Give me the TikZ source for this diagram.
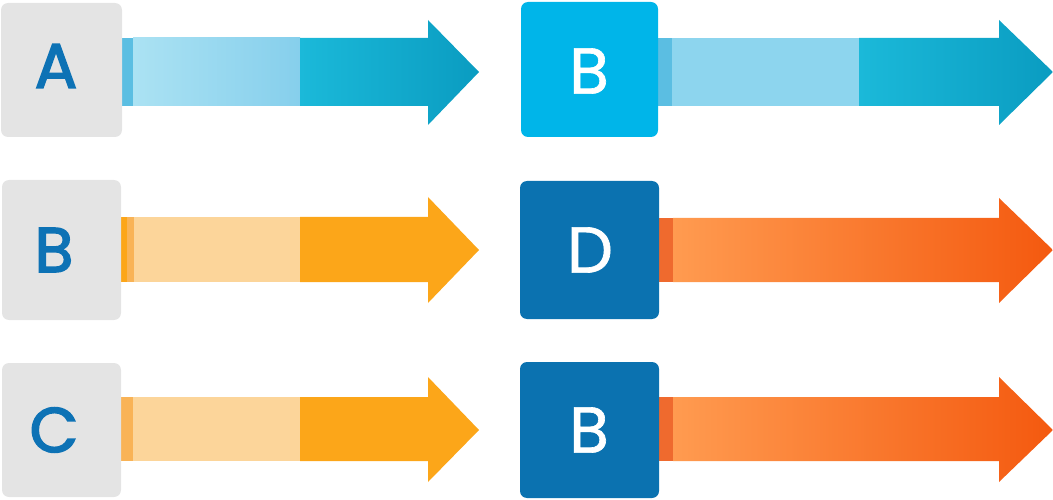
\documentclass[tikz,border=0pt]{standalone}
\usepackage{fontspec}
\newfontfamily\letterfont{Poppins}[FakeBold=1.0]
\newfontfamily\letterheavy{Poppins}[FakeBold=2.6]
\definecolor{boxgrey}{HTML}{E4E4E4}
\definecolor{lettblue}{HTML}{0D72B5}
\definecolor{skyblue}{HTML}{00B5E9}
\definecolor{deepblue}{HTML}{0B72B0}
\definecolor{tealA}{HTML}{1BB9D9}
\definecolor{tealB}{HTML}{0A9CC1}
\definecolor{paleA}{HTML}{ABE2F3}
\definecolor{paleB}{HTML}{86CFEC}
\definecolor{paleC}{HTML}{8DD5EE}
\definecolor{tealstrip}{HTML}{5BBEE2}
\definecolor{orlight}{HTML}{FCD59A}
\definecolor{orstrip}{HTML}{F9B356}
\definecolor{ordark}{HTML}{FCA619}
\definecolor{redA}{HTML}{FF9B50}
\definecolor{redB}{HTML}{F4590F}
\definecolor{redstrip}{HTML}{EF6A2E}
\tikzset{
  greybox/.style={fill=boxgrey, rounded corners=7pt},
  bluebox/.style={fill=skyblue, rounded corners=7pt},
  darkbox/.style={fill=deepblue, rounded corners=7pt},
  bluelett/.style={text=lettblue, font=\letterheavy\fontsize{63}{63}\selectfont, inner sep=0pt},
  whitelett/.style={text=white, font=\letterfont\fontsize{65}{65}\selectfont, inner sep=0pt},
}
\begin{document}
\begin{tikzpicture}[x=1pt,y=-1pt]
\useasboundingbox (0,0) rectangle (1053,500);
% ---------- left column ----------
% row 1 (teal)
\fill[tealstrip] (116,38) rectangle (134,106);
\shade[left color=paleA, right color=paleB] (133,38) rectangle (300,106);
\shade[left color=tealA, right color=tealB] (300,38) -- (428,38) -- (428,20) -- (479,72) -- (428,125) -- (428,106) -- (300,106) -- cycle;
\fill[greybox] (1,3) rectangle (122,137);
\node[bluelett] (a1) at (56,66) {A};
% row 2 (orange)
\fill[ordark] (116,217) rectangle (128,282);
\fill[orstrip] (127,217) rectangle (135,282);
\fill[orlight] (134,217) rectangle (300,282);
\fill[ordark] (300,217) -- (428,217) -- (428,197) -- (479,250) -- (428,303) -- (428,282) -- (300,282) -- cycle;
\fill[greybox] (2,180) rectangle (121,320);
\node[bluelett] (b1) at (54,250) {B};
% row 3 (orange)
\fill[orstrip] (116,397) rectangle (134,461);
\fill[orlight] (133,397) rectangle (300,461);
\fill[ordark] (300,397) -- (428,397) -- (428,377) -- (479,430) -- (428,482) -- (428,461) -- (300,461) -- cycle;
\fill[greybox] (2,363) rectangle (121,497);
\node[bluelett] (c1) at (54,430) {C};
% ---------- right column ----------
% row 1
\fill[tealstrip] (652,38) rectangle (673,106);
\fill[paleC] (672,38) rectangle (859,106);
\shade[left color=tealA, right color=tealB] (859,38) -- (999,38) -- (999,20) -- (1053,72) -- (999,125) -- (999,106) -- (859,106) -- cycle;
\fill[bluebox] (521,2) rectangle (658,137);
\node[whitelett] (b2) at (589,71) {B};
% row 2
\fill[redstrip] (652,218) rectangle (674,282);
\shade[left color=redA, right color=redB] (673,218) -- (999,218) -- (999,198) -- (1053,250) -- (999,303) -- (999,282) -- (673,282) -- cycle;
\fill[darkbox] (520,181) rectangle (659,319);
\node[whitelett] (d2) at (590,250) {D};
% row 3
\fill[redstrip] (652,397) rectangle (674,461);
\shade[left color=redA, right color=redB] (673,397) -- (999,397) -- (999,377) -- (1053,430) -- (999,482) -- (999,461) -- (673,461) -- cycle;
\fill[darkbox] (520,362) rectangle (659,498);
\node[whitelett] (b3) at (589,430) {B};
\end{tikzpicture}
\end{document}
